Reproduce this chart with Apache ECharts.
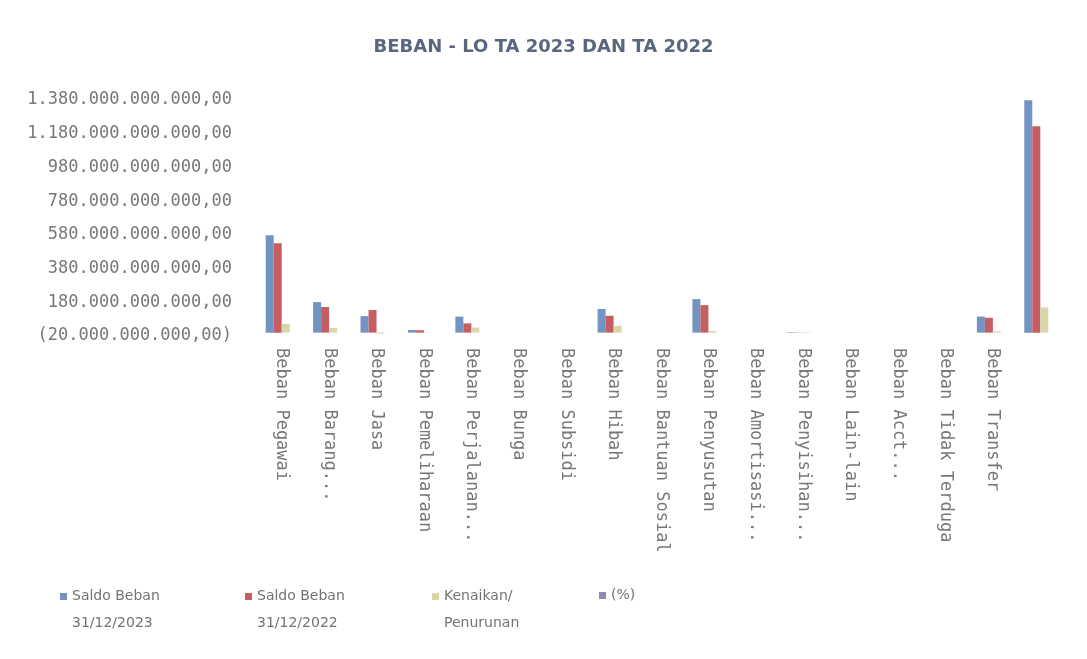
<!DOCTYPE html>
<html>
<head>
<meta charset="utf-8">
<script src="https://cdn.jsdelivr.net/npm/echarts@6/dist/echarts.min.js"></script>
<style>
  html, body { margin: 0; padding: 0; background: #fff; }
  #chart { width: 1087px; height: 659px; }
</style>
</head>
<body>
<div id="chart"></div>
<script>
  // Categories as shown on the x axis (Excel truncated some of them).
  const categories = [
    'Beban Pegawai', 'Beban Barang...', 'Beban Jasa', 'Beban Pemeliharaan',
    'Beban Perjalanan...', 'Beban Bunga', 'Beban Subsidi', 'Beban Hibah',
    'Beban Bantuan Sosial', 'Beban Penyusutan', 'Beban Amortisasi...',
    'Beban Penyisihan...', 'Beban Lain-lain', 'Beban Acct...',
    'Beban Tidak Terduga', 'Beban Transfer', ''
  ];

  const seriesNames = ['Saldo Beban\n31/12/2023', 'Saldo Beban\n31/12/2022', 'Kenaikan/\nPenurunan', '(%)'];

  // Values (Rupiah).
  const saldo2023 = [578e9, 181e9, 98e9, 16e9, 95e9, 0, 0, 140e9, 0, 199e9, 0, 3e9, 0, 0, 0, 95e9, 1378e9];
  const saldo2022 = [530e9, 152e9, 134e9, 14e9, 55e9, 0, 0, 100e9, 0, 163e9, 0, 1e9, 0, 0, 0, 88e9, 1225e9];
  const kenaikan  = [52e9, 27e9, -6e9, 2e9, 30e9, 0, 0, 40e9, 0, 10e9, 0, 2e9, 0, 0, 0, 7e9, 150e9];
  const persen    = [9.06, 19.08, -26.9, 14.2, 72.7, 0, 0, 40.0, 0, 22.1, 0, 200, 0, 0, 0, 8.0, 12.5];

  const colors = ['#7393c2', '#c45e60', '#dad6ac', '#8e8bb4'];

  // Indonesian number format, negatives in brackets.
  function fmtId(v) {
    const neg = v < 0;
    const s = Math.round(Math.abs(v)).toString().replace(/\B(?=(\d{3})+(?!\d))/g, '.') + ',00';
    return neg ? '(' + s + ')' : s;
  }

  const values = [saldo2023, saldo2022, kenaikan, persen];
  const series = seriesNames.map((name, i) => ({
    name: name,
    type: 'bar',
    data: values[i],
    barWidth: 8,
    barGap: '0%',
    itemStyle: { color: colors[i] }
  }));

  // Square marker at the top of a tall box, so it sits next to the first text line.
  const tallIcon = 'path://M0,0h7v7h-7zM0,33.9L0.01,34L0,34z';
  const legendLeft = [60, 245, 432, 599];
  const legends = seriesNames.map((name, i) => {
    const twoLines = name.indexOf('\n') >= 0;
    return {
      data: [name],
      left: legendLeft[i],
      top: twoLines ? 583 : 582,
      padding: 0,
      icon: twoLines ? tallIcon : 'rect',
      itemWidth: 7,
      itemHeight: twoLines ? 34 : 7,
      itemGap: 0,
      selectedMode: false,
      textStyle: {
        fontFamily: 'DejaVu Sans',
        fontSize: 14,
        color: '#737373',
        lineHeight: 27
      }
    };
  });

  const chart = echarts.init(document.getElementById('chart'), null, { renderer: 'canvas' });
  chart.setOption({
    animation: false,
    backgroundColor: '#fff',
    title: {
      text: 'BEBAN - LO TA 2023 DAN TA 2022',
      left: 'center',
      top: 33,
      textStyle: {
        fontFamily: 'DejaVu Sans',
        fontWeight: 'bold',
        fontSize: 18,
        color: '#5a6680'
      }
    },
    legend: legends,
    grid: { left: 258, right: 23, top: 100, bottom: 323, containLabel: false },
    xAxis: {
      type: 'category',
      data: categories,
      axisLine: { show: false },
      axisTick: { show: false },
      axisLabel: {
        rotate: -90,
        margin: 12,
        interval: 0,
        fontFamily: 'DejaVu Sans Mono',
        fontSize: 17,
        color: '#777777'
      }
    },
    yAxis: {
      type: 'value',
      min: -20e9,
      max: 1380e9,
      interval: 200e9,
      splitLine: { show: false },
      axisLine: { show: false },
      axisTick: { show: false },
      axisLabel: {
        margin: 26,
        fontFamily: 'DejaVu Sans Mono',
        fontSize: 17,
        color: '#777777',
        formatter: fmtId
      }
    },
    series: series
  });
</script>
</body>
</html>
